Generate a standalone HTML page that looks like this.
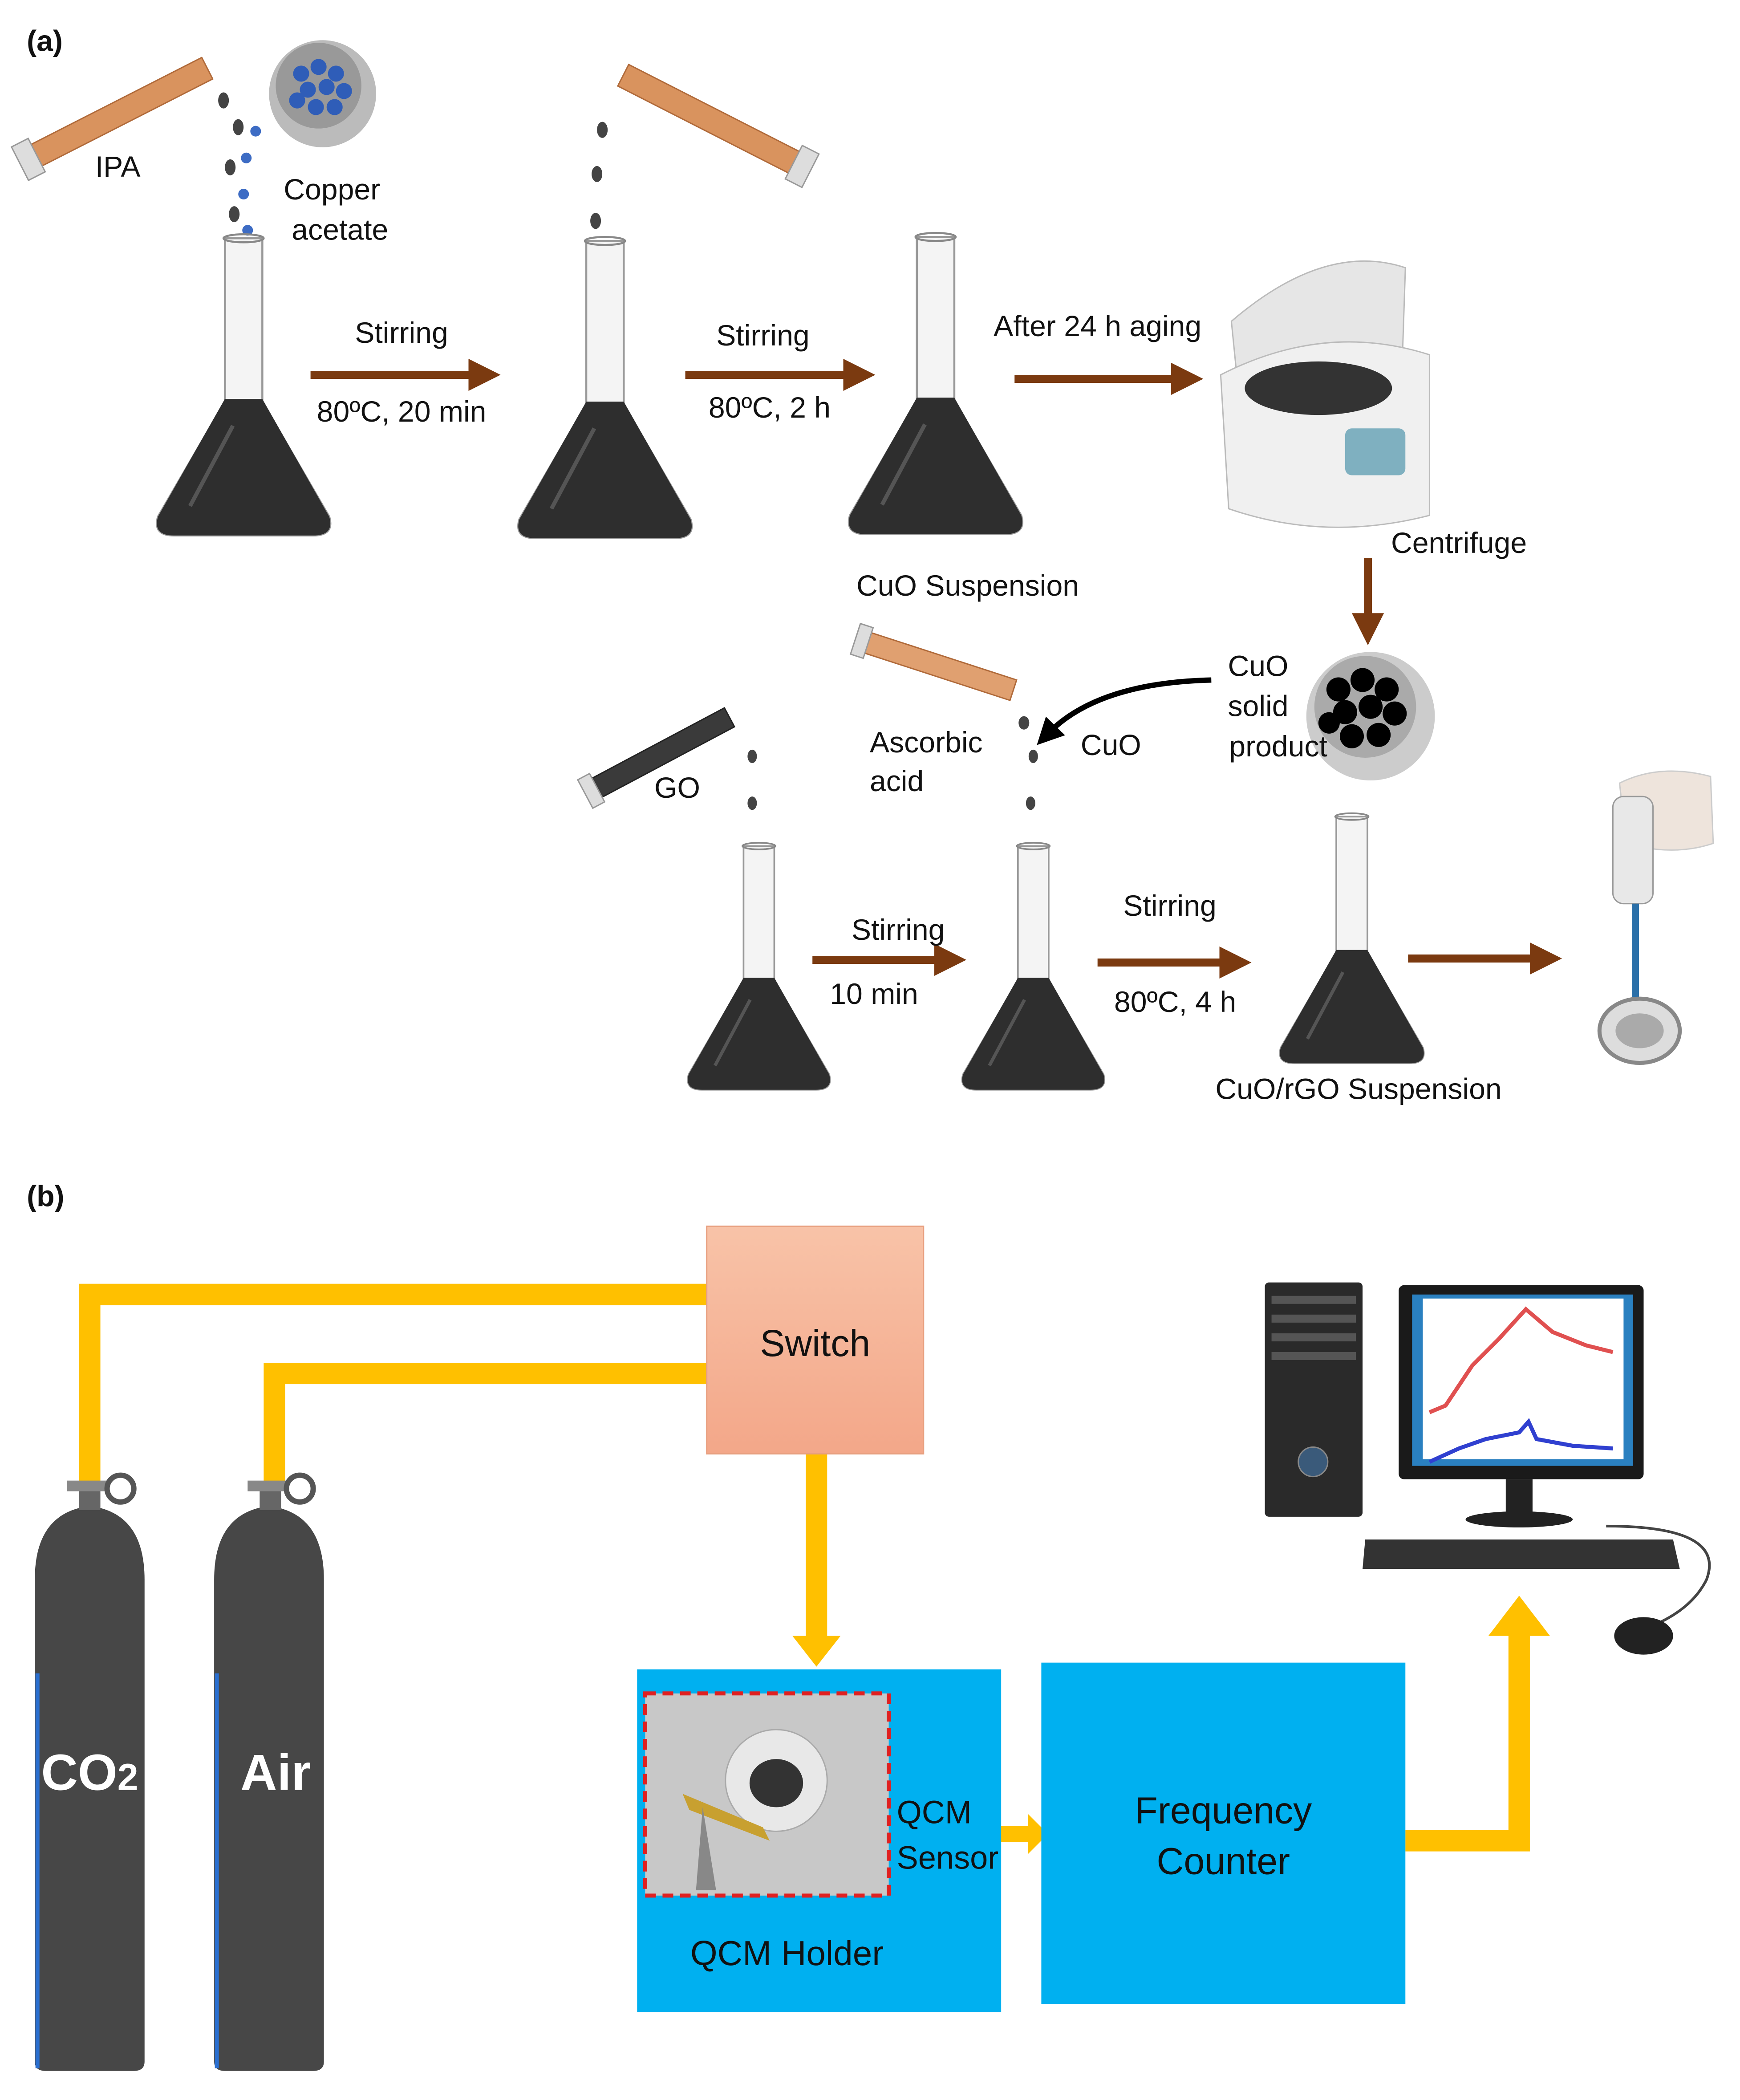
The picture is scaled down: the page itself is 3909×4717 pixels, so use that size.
<!DOCTYPE html>
<html><head><meta charset="utf-8"><style>
html,body{margin:0;padding:0;background:#fff;}
svg{display:block;}
text{font-family:"Liberation Sans",sans-serif;fill:#111;}
</style></head><body>
<svg width="3909" height="4717" viewBox="0 0 1300 1568.7" xmlns="http://www.w3.org/2000/svg">
<defs>
<g id="flask">
  <path d="M-14,0 L14,0 L14,122 L64,208 Q68,222 52,222 L-52,222 Q-68,222 -64,208 L-14,122 Z" fill="#f4f4f4" stroke="#999" stroke-width="1.5"/>
  <path d="M-14,120 L14,120 L64,208 Q68,222 52,222 L-52,222 Q-68,222 -64,208 Z" fill="#2e2e2e"/>
  <path d="M-8,140 L-40,200" stroke="#555" stroke-width="3"/>
  <ellipse cx="0" cy="0" rx="15" ry="3" fill="none" stroke="#888" stroke-width="1.5"/>
</g>
<marker id="ab" markerWidth="4" markerHeight="4" refX="2" refY="2" orient="auto" markerUnits="strokeWidth"><path d="M0,0 L4,2 L0,4 Z" fill="#7b3a10"/></marker>
<marker id="ak" markerWidth="5" markerHeight="5" refX="2" refY="2.5" orient="auto" markerUnits="strokeWidth"><path d="M0,0 L5,2.5 L0,5 Z" fill="#000"/></marker>
<linearGradient id="sw" x1="0" y1="0" x2="0" y2="1"><stop offset="0" stop-color="#f8c3a8"/><stop offset="1" stop-color="#f3a789"/></linearGradient>
</defs>

<text x="20" y="38" font-size="22" font-weight="bold">(a)</text>

<!-- tubes -->
<g transform="translate(88,85) rotate(-27)">
  <rect x="-70" y="-9" width="145" height="18" fill="#d9935e" stroke="#b06a3a"/>
  <rect x="-82" y="-14" width="14" height="28" fill="#ddd" stroke="#999"/>
</g>
<g transform="translate(528,88) rotate(27)">
  <rect x="-70" y="-9" width="145" height="18" fill="#d9935e" stroke="#b06a3a"/>
  <rect x="73" y="-14" width="14" height="28" fill="#ddd" stroke="#999"/>
</g>
<g transform="translate(700,497) rotate(18)">
  <rect x="-55" y="-8" width="115" height="16" fill="#e0a070" stroke="#b06a3a"/>
  <rect x="-64" y="-12" width="10" height="24" fill="#ddd" stroke="#999"/>
</g>
<g transform="translate(492,564) rotate(-28)">
  <rect x="-52" y="-8" width="112" height="16" fill="#3a3a3a" stroke="#222"/>
  <rect x="-62" y="-12" width="10" height="24" fill="#ddd" stroke="#999"/>
</g>

<!-- copper bowl -->
<circle cx="241" cy="70" r="40" fill="#bbb"/><circle cx="238" cy="64" r="32" fill="#999"/>
<g fill="#2f5db8">
<circle cx="225" cy="55" r="6"/><circle cx="238" cy="50" r="6"/><circle cx="251" cy="55" r="6"/><circle cx="230" cy="67" r="6"/><circle cx="244" cy="65" r="6"/><circle cx="257" cy="68" r="6"/><circle cx="236" cy="80" r="6"/><circle cx="250" cy="80" r="6"/><circle cx="222" cy="75" r="6"/>
</g>
<!-- drops -->
<g fill="#444">
<ellipse cx="167" cy="75" rx="4" ry="6"/><ellipse cx="178" cy="95" rx="4" ry="6"/><ellipse cx="172" cy="125" rx="4" ry="6"/><ellipse cx="175" cy="160" rx="4" ry="6"/><ellipse cx="177" cy="195" rx="4" ry="6"/><ellipse cx="178" cy="230" rx="4" ry="6"/><ellipse cx="177" cy="270" rx="4" ry="6"/>
<ellipse cx="450" cy="97" rx="4" ry="6"/><ellipse cx="446" cy="130" rx="4" ry="6"/><ellipse cx="445" cy="165" rx="4" ry="6"/><ellipse cx="446" cy="200" rx="4" ry="6"/><ellipse cx="447" cy="235" rx="4" ry="6"/><ellipse cx="448" cy="270" rx="4" ry="6"/>
<ellipse cx="562" cy="565" rx="3.5" ry="5"/><ellipse cx="562" cy="600" rx="3.5" ry="5"/><ellipse cx="562" cy="640" rx="3.5" ry="5"/><ellipse cx="562" cy="680" rx="3.5" ry="5"/><ellipse cx="562" cy="710" rx="3.5" ry="5"/>
<ellipse cx="765" cy="540" rx="4" ry="5"/><ellipse cx="772" cy="565" rx="3.5" ry="5"/><ellipse cx="770" cy="600" rx="3.5" ry="5"/><ellipse cx="770" cy="640" rx="3.5" ry="5"/><ellipse cx="770" cy="675" rx="3.5" ry="5"/><ellipse cx="770" cy="705" rx="3.5" ry="5"/>
</g>
<g fill="#3d6cc4"><circle cx="191" cy="98" r="4"/><circle cx="184" cy="118" r="4"/><circle cx="182" cy="145" r="4"/><circle cx="185" cy="172" r="4"/></g>

<use href="#flask" transform="translate(182,178)"/>
<use href="#flask" transform="translate(452,180) scale(1,1.0)"/>
<use href="#flask" transform="translate(699,177)"/>
<use href="#flask" transform="translate(567,632) scale(0.82)"/>
<use href="#flask" transform="translate(772,632) scale(0.82)"/>
<use href="#flask" transform="translate(1010,610) scale(0.83)"/>

<!-- brown arrows -->
<g stroke="#7b3a10" stroke-width="6" marker-end="url(#ab)">
<line x1="232" y1="280" x2="362" y2="280"/>
<line x1="512" y1="280" x2="642" y2="280"/>
<line x1="758" y1="283" x2="887" y2="283"/>
<line x1="1022" y1="417" x2="1022" y2="470"/>
<line x1="607" y1="717" x2="710" y2="717"/>
<line x1="820" y1="719" x2="923" y2="719"/>
<line x1="1052" y1="716" x2="1155" y2="716"/>
</g>
<path d="M905,508 Q820,510 783,548" fill="none" stroke="#000" stroke-width="4" marker-end="url(#ak)"/>

<!-- centrifuge -->
<path d="M920,240 Q990,180 1050,200 L1048,260 L925,290 Z" fill="#e6e6e6" stroke="#bbb"/>
<path d="M912,280 Q990,240 1068,265 L1068,385 Q990,405 918,380 Z" fill="#f0f0f0" stroke="#bbb"/>
<ellipse cx="985" cy="290" rx="55" ry="20" fill="#333"/>
<rect x="1005" y="320" width="45" height="35" rx="5" fill="#7fb0c0"/>

<!-- CuO bowl -->
<circle cx="1024" cy="535" r="48" fill="#ccc"/><circle cx="1020" cy="528" r="38" fill="#aaa"/>
<g fill="#000">
<circle cx="1000" cy="515" r="9"/><circle cx="1018" cy="508" r="9"/><circle cx="1036" cy="515" r="9"/><circle cx="1005" cy="532" r="9"/><circle cx="1024" cy="528" r="9"/><circle cx="1042" cy="533" r="9"/><circle cx="1010" cy="550" r="9"/><circle cx="1030" cy="549" r="9"/><circle cx="993" cy="540" r="8"/>
</g>

<!-- pipette -->
<path d="M1210,585 Q1240,570 1278,580 L1280,630 Q1250,640 1215,630 Z" fill="#eee4dc" stroke="#ccc"/>
<rect x="1205" y="595" width="30" height="80" rx="8" fill="#e8e8e8" stroke="#999"/>
<line x1="1222" y1="675" x2="1222" y2="760" stroke="#2a6fa8" stroke-width="5"/>
<ellipse cx="1225" cy="770" rx="30" ry="24" fill="#ddd" stroke="#888" stroke-width="3"/>
<ellipse cx="1225" cy="770" rx="18" ry="13" fill="#aaa"/>

<g font-size="22" text-anchor="middle">
<text x="88" y="132">IPA</text>
<text x="248" y="149">Copper</text><text x="254" y="179">acetate</text>
<text x="300" y="256">Stirring</text><text x="300" y="315">80ºC, 20 min</text>
<text x="570" y="258">Stirring</text><text x="575" y="312">80ºC, 2 h</text>
<text x="820" y="251">After 24 h aging</text>
<text x="723" y="445">CuO Suspension</text>
<text x="1090" y="413">Centrifuge</text>
<text x="940" y="505">CuO</text><text x="940" y="535">solid</text><text x="955" y="565">product</text>
<text x="692" y="562">Ascorbic</text><text x="670" y="591">acid</text>
<text x="830" y="564">CuO</text>
<text x="506" y="596">GO</text>
<text x="671" y="702">Stirring</text><text x="653" y="750">10 min</text>
<text x="874" y="684">Stirring</text><text x="878" y="756">80ºC, 4 h</text>
<text x="1015" y="821">CuO/rGO Suspension</text>
</g>

<text x="20" y="901" font-size="22" font-weight="bold">(b)</text>

<!-- pipes -->
<g fill="none" stroke="#ffc000" stroke-width="16">
<polyline points="528,967 67,967 67,1108"/>
<polyline points="528,1026 205,1026 205,1108"/>
<polyline points="610,1086 610,1222"/>
<polyline points="1050,1375 1135,1375 1135,1220"/>
<line x1="745" y1="1370" x2="770" y2="1370" stroke-width="12"/>
</g>
<polygon points="592,1222 628,1222 610,1245" fill="#ffc000"/>
<polygon points="1112,1222 1158,1222 1135,1192" fill="#ffc000"/>
<polygon points="768,1355 783,1370 768,1385" fill="#ffc000"/>

<rect x="528" y="916" width="162" height="170" fill="url(#sw)" stroke="#e8a080"/>
<text x="609" y="1013" font-size="28" text-anchor="middle">Switch</text>

<rect x="476" y="1247" width="272" height="256" fill="#00b0f0"/>
<rect x="482" y="1265" width="182" height="151" fill="#c8c8c8" stroke="#e02020" stroke-width="3" stroke-dasharray="8,5"/>
<circle cx="580" cy="1330" r="38" fill="#e8e8e8" stroke="#aaa"/>
<ellipse cx="580" cy="1332" rx="20" ry="18" fill="#333"/>
<path d="M510,1340 L570,1365 L575,1375 L515,1352 Z" fill="#c8a030"/>
<path d="M525,1350 L535,1412 L520,1412 Z" fill="#888"/>
<g font-size="24"><text x="670" y="1362">QCM</text><text x="670" y="1396">Sensor</text></g>
<text x="588" y="1468" font-size="26" text-anchor="middle">QCM Holder</text>

<rect x="778" y="1242" width="272" height="255" fill="#00b0f0"/>
<g font-size="28" text-anchor="middle"><text x="914" y="1362">Frequency</text><text x="914" y="1400">Counter</text></g>

<!-- computer -->
<rect x="945" y="958" width="73" height="175" rx="3" fill="#2a2a2a"/>
<g fill="#555"><rect x="950" y="968" width="63" height="6"/><rect x="950" y="982" width="63" height="6"/><rect x="950" y="996" width="63" height="6"/><rect x="950" y="1010" width="63" height="6"/></g>
<circle cx="981" cy="1092" r="11" fill="#3a5a7a" stroke="#888"/>
<rect x="1045" y="960" width="183" height="145" rx="4" fill="#1a1a1a"/>
<rect x="1055" y="967" width="165" height="128" fill="#2a80c0"/>
<rect x="1063" y="970" width="150" height="120" fill="#fff"/>
<polyline points="1068,1055 1080,1050 1100,1020 1120,1000 1140,978 1160,995 1185,1005 1205,1010" fill="none" stroke="#e05050" stroke-width="3"/>
<polyline points="1068,1092 1090,1082 1110,1075 1135,1070 1142,1062 1148,1075 1175,1080 1205,1082" fill="none" stroke="#3040d0" stroke-width="3"/>
<rect x="1125" y="1105" width="20" height="25" fill="#222"/>
<ellipse cx="1135" cy="1135" rx="40" ry="6" fill="#222"/>
<path d="M1020,1150 L1250,1150 L1255,1172 L1018,1172 Z" fill="#333"/>
<path d="M1200,1140 Q1290,1140 1275,1180 Q1265,1200 1240,1212" fill="none" stroke="#444" stroke-width="2"/>
<ellipse cx="1228" cy="1222" rx="22" ry="14" fill="#222"/>

<!-- cylinders -->
<g>
<path d="M26,1180 Q26,1130 67,1125 Q108,1130 108,1180 L108,1540 Q108,1547 100,1547 L34,1547 Q26,1547 26,1540 Z" fill="#474747"/>
<line x1="28" y1="1250" x2="28" y2="1545" stroke="#2a6fd0" stroke-width="3"/>
<rect x="59" y="1112" width="16" height="16" fill="#666"/>
<rect x="50" y="1106" width="30" height="8" fill="#888"/>
<circle cx="90" cy="1112" r="10" fill="#fff" stroke="#555" stroke-width="4"/>
<path d="M160,1180 Q160,1130 201,1125 Q242,1130 242,1180 L242,1540 Q242,1547 234,1547 L168,1547 Q160,1547 160,1540 Z" fill="#474747"/>
<line x1="162" y1="1250" x2="162" y2="1545" stroke="#2a6fd0" stroke-width="3"/>
<rect x="194" y="1112" width="16" height="16" fill="#666"/>
<rect x="185" y="1106" width="30" height="8" fill="#888"/>
<circle cx="224" cy="1112" r="10" fill="#fff" stroke="#555" stroke-width="4"/>
</g>
<text x="67" y="1337" font-size="38" font-weight="bold" text-anchor="middle" style="fill:#fff">CO<tspan font-size="28">2</tspan></text>
<text x="206" y="1337" font-size="38" font-weight="bold" text-anchor="middle" style="fill:#fff">Air</text>
</svg>
</body></html>
